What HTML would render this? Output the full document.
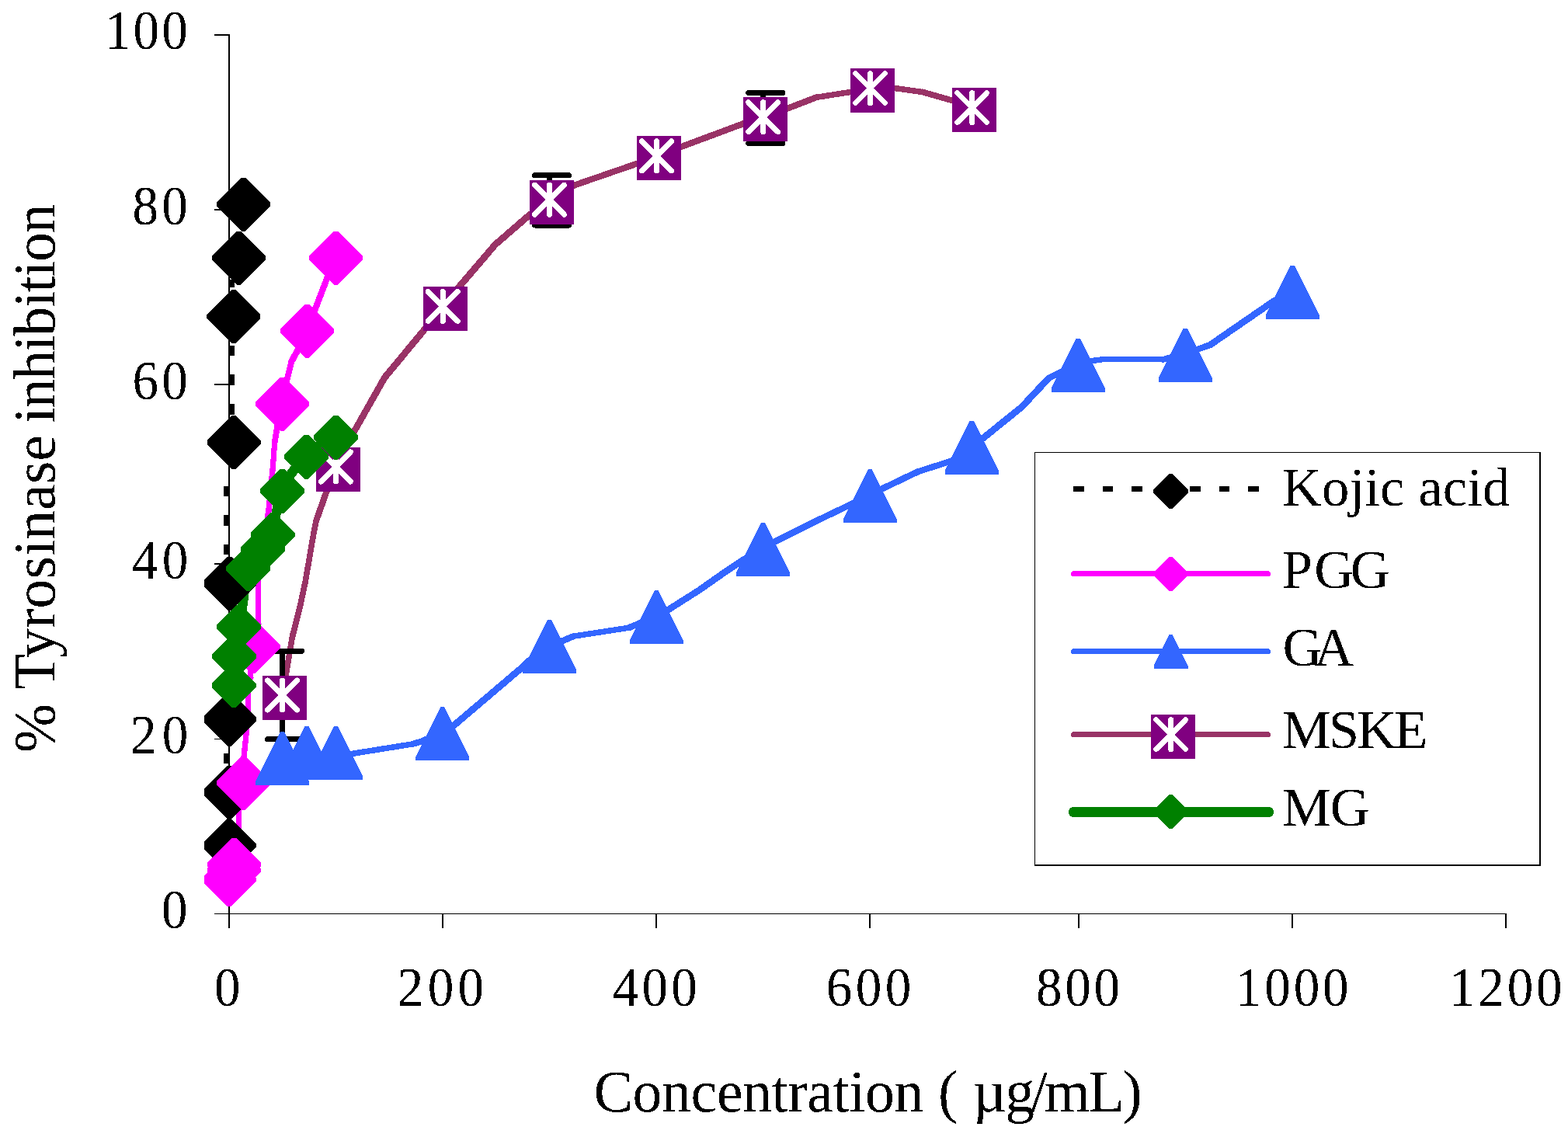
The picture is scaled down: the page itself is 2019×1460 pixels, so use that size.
<!DOCTYPE html>
<html lang="en"><head><meta charset="utf-8"><title>Tyrosinase inhibition</title>
<style>html,body{margin:0;padding:0;background:#fff}svg{display:block}text{font-family:"Liberation Serif",serif;fill:#000}</style>
</head><body>
<svg width="2019" height="1460" viewBox="0 0 2019 1460" shape-rendering="crispEdges">
<defs><filter id="bw" filterUnits="userSpaceOnUse" x="0" y="0" width="2019" height="1460" color-interpolation-filters="sRGB"><feComponentTransfer><feFuncA type="discrete" tableValues="0 1"/></feComponentTransfer></filter></defs>
<rect width="2019" height="1460" fill="#fff"/>
<g fill="#000" shape-rendering="crispEdges">
<rect x="294" y="44" width="2" height="1133"/>
<rect x="276" y="1176" width="1664" height="1"/>
<rect x="276" y="44" width="19" height="2"/>
<rect x="276" y="269" width="19" height="2"/>
<rect x="276" y="494" width="19" height="2"/>
<rect x="276" y="725" width="19" height="2"/>
<rect x="276" y="951" width="19" height="1"/>
<rect x="294" y="1176" width="2" height="19"/>
<rect x="569" y="1176" width="2" height="19"/>
<rect x="844" y="1176" width="2" height="19"/>
<rect x="1119" y="1176" width="2" height="19"/>
<rect x="1388" y="1176" width="2" height="19"/>
<rect x="1663" y="1176" width="2" height="19"/>
<rect x="1938" y="1176" width="2" height="19"/>
</g>
<g fill="none" stroke-linejoin="round" stroke-linecap="round">
<g stroke="#FF00FF"><path d="M295.0 1130.0 L298.0 1115.0" stroke-width="7.7"/><path d="M298.0 1115.0 L304.0 1085.0" stroke-width="7.7"/><path d="M304.0 1085.0 L307.4 1068.0" stroke-width="7.7"/><path d="M307.4 1068.0 L307.4 1042.0" stroke-width="7.0"/><path d="M307.4 1042.0 L311.0 1008.0" stroke-width="7.4"/><path d="M311.0 1008.0 L314.0 975.0" stroke-width="7.3"/><path d="M314.0 975.0 L319.6 920.0" stroke-width="7.3"/><path d="M319.6 920.0 L319.6 877.0" stroke-width="7.0"/><path d="M319.6 877.0 L322.4 872.0" stroke-width="8.4"/><path d="M322.4 872.0 L322.4 858.0" stroke-width="7.0"/><path d="M322.4 858.0 L325.0 832.0" stroke-width="7.3"/><path d="M325.0 832.0 L332.6 804.0" stroke-width="7.9"/><path d="M332.6 804.0 L332.6 745.0" stroke-width="7.0"/><path d="M332.6 745.0 L345.8 658.0" stroke-width="7.5"/><path d="M345.8 658.0 L351.5 600.0" stroke-width="7.3"/><path d="M351.5 600.0 L353.6 570.0" stroke-width="7.2"/><path d="M353.6 570.0 L356.6 552.0" stroke-width="7.6"/><path d="M356.6 552.0 L361.0 519.0" stroke-width="7.4"/><path d="M361.0 519.0 L370.1 486.3" stroke-width="7.9"/><path d="M370.1 486.3 L375.4 465.2" stroke-width="7.8"/><path d="M375.4 465.2 L382.2 453.0" stroke-width="8.4"/><path d="M382.2 453.0 L393.0 425.0" stroke-width="8.1"/><path d="M393.0 425.0 L405.5 398.9" stroke-width="8.3"/><path d="M405.5 398.9 L420.6 359.7" stroke-width="8.1"/><path d="M420.6 359.7 L430.0 331.0" stroke-width="8.0"/></g>
<g stroke="#3366FF"><path d="M363.6 980.0 L395.0 973.0" stroke-width="7.7"/><path d="M395.0 973.0 L432.3 973.5" stroke-width="7.0"/><path d="M432.3 973.5 L452.7 970.5" stroke-width="7.5"/><path d="M452.7 970.5 L531.4 957.9" stroke-width="7.5"/><path d="M531.4 957.9 L545.6 953.5" stroke-width="8.0"/><path d="M545.6 953.5 L568.0 943.0" stroke-width="8.3"/><path d="M568.0 943.0 L584.4 934.0" stroke-width="8.4"/><path d="M584.4 934.0 L672.8 858.9" stroke-width="8.7"/><path d="M672.8 858.9 L678.7 852.9" stroke-width="8.7"/><path d="M678.7 852.9 L705.5 831.0" stroke-width="8.7"/><path d="M705.5 831.0 L724.4 825.1" stroke-width="8.0"/><path d="M724.4 825.1 L738.3 819.2" stroke-width="8.2"/><path d="M738.3 819.2 L809.8 808.2" stroke-width="7.5"/><path d="M809.8 808.2 L821.7 803.3" stroke-width="8.2"/><path d="M821.7 803.3 L843.5 793.0" stroke-width="8.3"/><path d="M843.5 793.0 L861.5 784.4" stroke-width="8.3"/><path d="M861.5 784.4 L900.0 760.0" stroke-width="8.5"/><path d="M900.0 760.0 L933.8 736.3" stroke-width="8.6"/><path d="M933.8 736.3 L957.6 720.5" stroke-width="8.6"/><path d="M957.6 720.5 L980.5 706.0" stroke-width="8.5"/><path d="M980.5 706.0 L997.3 697.6" stroke-width="8.4"/><path d="M997.3 697.6 L1050.9 670.8" stroke-width="8.4"/><path d="M1050.9 670.8 L1098.6 648.0" stroke-width="8.3"/><path d="M1098.6 648.0 L1118.3 637.5" stroke-width="8.4"/><path d="M1118.3 637.5 L1136.3 629.1" stroke-width="8.3"/><path d="M1136.3 629.1 L1182.0 607.2" stroke-width="8.3"/><path d="M1182.0 607.2 L1225.7 593.3" stroke-width="8.0"/><path d="M1225.7 593.3 L1249.4 575.0" stroke-width="8.6"/><path d="M1249.4 575.0 L1264.9 564.9" stroke-width="8.6"/><path d="M1264.9 564.9 L1315.6 524.0" stroke-width="8.7"/><path d="M1315.6 524.0 L1350.3 486.9" stroke-width="8.7"/><path d="M1350.3 486.9 L1365.2 479.4" stroke-width="8.4"/><path d="M1365.2 479.4 L1386.3 469.0" stroke-width="8.3"/><path d="M1386.3 469.0 L1406.0 464.6" stroke-width="7.7"/><path d="M1406.0 464.6 L1418.4 462.9" stroke-width="7.5"/><path d="M1418.4 462.9 L1497.6 462.9" stroke-width="7.0"/><path d="M1497.6 462.9 L1505.0 460.9" stroke-width="7.9"/><path d="M1505.0 460.9 L1524.3 456.0" stroke-width="7.8"/><path d="M1524.3 456.0 L1542.2 449.7" stroke-width="8.1"/><path d="M1542.2 449.7 L1558.3 444.0" stroke-width="8.1"/><path d="M1558.3 444.0 L1636.3 390.3" stroke-width="8.6"/><path d="M1636.3 390.3 L1662.0 374.0" stroke-width="8.5"/></g>
<g stroke="#993366"><path d="M363.5 895.0 L368.0 870.0" stroke-width="7.6"/><path d="M368.0 870.0 L371.8 847.4" stroke-width="7.6"/><path d="M371.8 847.4 L376.4 820.0" stroke-width="7.6"/><path d="M376.4 820.0 L386.5 780.0" stroke-width="7.8"/><path d="M386.5 780.0 L393.3 748.3" stroke-width="7.7"/><path d="M393.3 748.3 L402.3 695.6" stroke-width="7.6"/><path d="M402.3 695.6 L406.8 671.5" stroke-width="7.6"/><path d="M406.8 671.5 L420.4 633.0" stroke-width="8.1"/><path d="M420.4 633.0 L432.3 601.0" stroke-width="8.1"/><path d="M432.3 601.0 L456.0 555.6" stroke-width="8.4"/><path d="M456.0 555.6 L495.2 486.3" stroke-width="8.5"/><path d="M495.2 486.3 L545.7 425.3" stroke-width="8.7"/><path d="M545.7 425.3 L570.3 394.5" stroke-width="8.7"/><path d="M570.3 394.5 L591.4 369.0" stroke-width="8.7"/><path d="M591.4 369.0 L637.8 314.8" stroke-width="8.7"/><path d="M637.8 314.8 L682.1 276.5" stroke-width="8.7"/><path d="M682.1 276.5 L707.5 257.3" stroke-width="8.6"/><path d="M707.5 257.3 L738.9 238.7" stroke-width="8.5"/><path d="M738.9 238.7 L819.2 211.0" stroke-width="8.0"/><path d="M819.2 211.0 L845.5 200.8" stroke-width="8.1"/><path d="M845.5 200.8 L876.8 189.1" stroke-width="8.1"/><path d="M876.8 189.1 L957.2 159.2" stroke-width="8.1"/><path d="M957.2 159.2 L982.7 150.8" stroke-width="8.0"/><path d="M982.7 150.8 L1014.8 139.3" stroke-width="8.1"/><path d="M1014.8 139.3 L1050.9 125.4" stroke-width="8.1"/><path d="M1050.9 125.4 L1095.0 118.5" stroke-width="7.5"/><path d="M1095.0 118.5 L1120.5 113.5" stroke-width="7.6"/><path d="M1120.5 113.5 L1151.8 113.5" stroke-width="7.0"/><path d="M1151.8 113.5 L1188.0 118.5" stroke-width="7.5"/><path d="M1188.0 118.5 L1226.1 129.4" stroke-width="7.9"/><path d="M1226.1 129.4 L1251.6 138.6" stroke-width="8.1"/></g>
<path d="M298.5 880.0 L298.5 843.0 L304.5 805.0 L311.5 785.0 L314.0 768.0 L316.5 730.0 L335.5 705.0 L348.0 686.0 L356.0 660.0 L361.0 630.0 L375.0 610.0 L391.5 586.0 L429.5 561.0" stroke="#008000" stroke-width="12.5"/>
</g>
<g fill="#000" shape-rendering="crispEdges">
<rect x="294" y="360" width="8" height="10"/>
<rect x="294" y="445" width="8" height="13"/>
<rect x="294" y="482" width="8" height="14"/>
<rect x="294" y="520" width="8" height="14"/>
<rect x="288" y="626" width="8" height="13"/>
<rect x="288" y="663" width="8" height="14"/>
<rect x="288" y="701" width="8" height="13"/>
<rect x="288" y="970" width="8" height="13"/>
</g>
<g stroke="#000" stroke-width="7" stroke-linecap="round" fill="none">
<path d="M363.5 838.4 V951.5 M344.5 838.4 H388.5 M344.5 951.5 H388.5"/>
<path d="M707.5 225.5 V290.0 M688.5 225.5 H732.5 M688.5 290.0 H732.5"/>
<path d="M982.7 119.5 V184.5 M963.7 119.5 H1007.7 M963.7 184.5 H1007.7"/>
</g>
<clipPath id="pc"><rect x="263" y="0" width="1756" height="1460"/></clipPath>
<g clip-path="url(#pc)">
<polygon points="292.5,1054.3 297.5,1054.3 329.5,1086.3 329.5,1091.3 297.5,1123.3 292.5,1123.3 260.5,1091.3 260.5,1086.3" fill="#000"/>
<polygon points="292.5,985.5 297.5,985.5 329.5,1017.5 329.5,1022.5 297.5,1054.5 292.5,1054.5 260.5,1022.5 260.5,1017.5" fill="#000"/>
<polygon points="292.9,891.8 297.9,891.8 329.9,923.8 329.9,928.8 297.9,960.8 292.9,960.8 260.9,928.8 260.9,923.8" fill="#000"/>
<polygon points="292.5,716.5 297.5,716.5 329.5,748.5 329.5,753.5 297.5,785.5 292.5,785.5 260.5,753.5 260.5,748.5" fill="#000"/>
<polygon points="298.5,535.4 303.5,535.4 335.5,567.4 335.5,572.4 303.5,604.4 298.5,604.4 266.5,572.4 266.5,567.4" fill="#000"/>
<polygon points="298.3,373.1 303.3,373.1 335.3,405.1 335.3,410.1 303.3,442.1 298.3,442.1 266.3,410.1 266.3,405.1" fill="#000"/>
<polygon points="305.1,297.8 310.1,297.8 342.1,329.8 342.1,334.8 310.1,366.8 305.1,366.8 273.1,334.8 273.1,329.8" fill="#000"/>
<polygon points="311.1,228.8 316.1,228.8 348.1,260.8 348.1,265.8 316.1,297.8 311.1,297.8 279.1,265.8 279.1,260.8" fill="#000"/>
<polygon points="292.5,1098.1 297.5,1098.1 329.5,1130.1 329.5,1135.1 297.5,1167.1 292.5,1167.1 260.5,1135.1 260.5,1130.1" fill="#FF00FF"/>
<polygon points="298.5,1086.0 303.5,1086.0 335.5,1118.0 335.5,1123.0 303.5,1155.0 298.5,1155.0 266.5,1123.0 266.5,1118.0" fill="#FF00FF"/>
<polygon points="298.5,1078.5 303.5,1078.5 335.5,1110.5 335.5,1115.5 303.5,1147.5 298.5,1147.5 266.5,1115.5 266.5,1110.5" fill="#FF00FF"/>
<polygon points="311.0,973.7 316.0,973.7 348.0,1005.7 348.0,1010.7 316.0,1042.7 311.0,1042.7 279.0,1010.7 279.0,1005.7" fill="#FF00FF"/>
<polygon points="323.8,798.1 328.8,798.1 360.8,830.1 360.8,835.1 328.8,867.1 323.8,867.1 291.8,835.1 291.8,830.1" fill="#FF00FF"/>
<polygon points="361.0,485.7 366.0,485.7 398.0,517.7 398.0,522.7 366.0,554.7 361.0,554.7 329.0,522.7 329.0,517.7" fill="#FF00FF"/>
<polygon points="392.5,391.5 397.5,391.5 429.5,423.5 429.5,428.5 397.5,460.5 392.5,460.5 360.5,428.5 360.5,423.5" fill="#FF00FF"/>
<polygon points="429.8,297.8 434.8,297.8 466.8,329.8 466.8,334.8 434.8,366.8 429.8,366.8 397.8,334.8 397.8,329.8" fill="#FF00FF"/>
<polygon points="361.1,942.1 366.1,942.1 398.1,1006.1 398.1,1011.1 329.1,1011.1 329.1,1006.1" fill="#3366FF"/>
<polygon points="392.5,934.9 397.5,934.9 429.5,998.9 429.5,1003.9 360.5,1003.9 360.5,998.9" fill="#3366FF"/>
<polygon points="429.8,935.0 434.8,935.0 466.8,999.0 466.8,1004.0 397.8,1004.0 397.8,999.0" fill="#3366FF"/>
<polygon points="567.4,910.4 572.4,910.4 604.4,974.4 604.4,979.4 535.4,979.4 535.4,974.4" fill="#3366FF"/>
<polygon points="705.0,797.9 710.0,797.9 742.0,861.9 742.0,866.9 673.0,866.9 673.0,861.9" fill="#3366FF"/>
<polygon points="842.8,760.2 847.8,760.2 879.8,824.2 879.8,829.2 810.8,829.2 810.8,824.2" fill="#3366FF"/>
<polygon points="980.0,673.0 985.0,673.0 1017.0,737.0 1017.0,742.0 948.0,742.0 948.0,737.0" fill="#3366FF"/>
<polygon points="1117.8,604.3 1122.8,604.3 1154.8,668.3 1154.8,673.3 1085.8,673.3 1085.8,668.3" fill="#3366FF"/>
<polygon points="1248.9,541.5 1253.9,541.5 1285.9,605.5 1285.9,610.5 1216.9,610.5 1216.9,605.5" fill="#3366FF"/>
<polygon points="1385.8,435.5 1390.8,435.5 1422.8,499.5 1422.8,504.5 1353.8,504.5 1353.8,499.5" fill="#3366FF"/>
<polygon points="1523.8,422.7 1528.8,422.7 1560.8,486.7 1560.8,491.7 1491.8,491.7 1491.8,486.7" fill="#3366FF"/>
<polygon points="1661.6,341.5 1666.6,341.5 1698.6,405.5 1698.6,410.5 1629.6,410.5 1629.6,405.5" fill="#3366FF"/>
<rect x="338.0" y="869.5" width="57.0" height="57.0" fill="#800080"/><path d="M363.5 876.0 V914.0 M344.5 876.0 L382.5 914.0 M382.5 876.0 L344.5 914.0" stroke="#fff" stroke-width="7.0" stroke-linecap="round" fill="none"/>
<rect x="406.8" y="575.5" width="57.0" height="57.0" fill="#800080"/><path d="M432.3 582.0 V620.0 M413.3 582.0 L451.3 620.0 M451.3 582.0 L413.3 620.0" stroke="#fff" stroke-width="7.0" stroke-linecap="round" fill="none"/>
<rect x="544.8" y="369.0" width="57.0" height="57.0" fill="#800080"/><path d="M570.3 375.5 V413.5 M551.3 375.5 L589.3 413.5 M589.3 375.5 L551.3 413.5" stroke="#fff" stroke-width="7.0" stroke-linecap="round" fill="none"/>
<rect x="682.0" y="231.8" width="57.0" height="57.0" fill="#800080"/><path d="M707.5 238.3 V276.3 M688.5 238.3 L726.5 276.3 M726.5 238.3 L688.5 276.3" stroke="#fff" stroke-width="7.0" stroke-linecap="round" fill="none"/>
<rect x="820.0" y="175.3" width="57.0" height="57.0" fill="#800080"/><path d="M845.5 181.8 V219.8 M826.5 181.8 L864.5 219.8 M864.5 181.8 L826.5 219.8" stroke="#fff" stroke-width="7.0" stroke-linecap="round" fill="none"/>
<rect x="957.2" y="125.3" width="57.0" height="57.0" fill="#800080"/><path d="M982.7 131.8 V169.8 M963.7 131.8 L1001.7 169.8 M1001.7 131.8 L963.7 169.8" stroke="#fff" stroke-width="7.0" stroke-linecap="round" fill="none"/>
<rect x="1095.0" y="88.0" width="57.0" height="57.0" fill="#800080"/><path d="M1120.5 94.5 V132.5 M1101.5 94.5 L1139.5 132.5 M1139.5 94.5 L1101.5 132.5" stroke="#fff" stroke-width="7.0" stroke-linecap="round" fill="none"/>
<rect x="1226.1" y="113.1" width="57.0" height="57.0" fill="#800080"/><path d="M1251.6 119.6 V157.6 M1232.6 119.6 L1270.6 157.6 M1270.6 119.6 L1232.6 157.6" stroke="#fff" stroke-width="7.0" stroke-linecap="round" fill="none"/>
<polygon points="298.9,854.1 303.9,854.1 329.9,880.1 329.9,885.1 303.9,911.1 298.9,911.1 272.9,885.1 272.9,880.1" fill="#008000"/>
<polygon points="298.9,816.7 303.9,816.7 329.9,842.7 329.9,847.7 303.9,873.7 298.9,873.7 272.9,847.7 272.9,842.7" fill="#008000"/>
<polygon points="304.9,778.7 309.9,778.7 335.9,804.7 335.9,809.7 309.9,835.7 304.9,835.7 278.9,809.7 278.9,804.7" fill="#008000"/>
<polygon points="316.9,703.8 321.9,703.8 347.9,729.8 347.9,734.8 321.9,760.8 316.9,760.8 290.9,734.8 290.9,729.8" fill="#008000"/>
<polygon points="335.8,678.5 340.8,678.5 366.8,704.5 366.8,709.5 340.8,735.5 335.8,735.5 309.8,709.5 309.8,704.5" fill="#008000"/>
<polygon points="348.6,660.0 353.6,660.0 379.6,686.0 379.6,691.0 353.6,717.0 348.6,717.0 322.6,691.0 322.6,686.0" fill="#008000"/>
<polygon points="361.1,603.9 366.1,603.9 392.1,629.9 392.1,634.9 366.1,660.9 361.1,660.9 335.1,634.9 335.1,629.9" fill="#008000"/>
<polygon points="392.0,559.8 397.0,559.8 423.0,585.8 423.0,590.8 397.0,616.8 392.0,616.8 366.0,590.8 366.0,585.8" fill="#008000"/>
<polygon points="429.9,534.6 434.9,534.6 460.9,560.6 460.9,565.6 434.9,591.6 429.9,591.6 403.9,565.6 403.9,560.6" fill="#008000"/>
</g>
<g shape-rendering="crispEdges">
<rect x="1332" y="582" width="652" height="533" fill="#000"/>
<rect x="1333" y="583" width="649" height="530" fill="#fff"/>
<rect x="1382" y="626" width="14" height="7" fill="#000"/>
<rect x="1420" y="626" width="13" height="7" fill="#000"/>
<rect x="1457" y="626" width="14" height="7" fill="#000"/>
<rect x="1532" y="626" width="14" height="7" fill="#000"/>
<rect x="1570" y="626" width="13" height="7" fill="#000"/>
<rect x="1607" y="626" width="14" height="7" fill="#000"/>
</g>
<g fill="none" stroke-linecap="round">
<path d="M1382.5 738.5 H1632.5" stroke="#FF00FF" stroke-width="7"/>
<path d="M1382.5 838.7 H1632.5" stroke="#3366FF" stroke-width="7"/>
<path d="M1382.5 945.6 H1632.5" stroke="#993366" stroke-width="7"/>
<path d="M1382.7 1045.5 H1633.3" stroke="#008000" stroke-width="13.5"/>
</g>
<polygon points="1505.6,609.8 1509.6,609.8 1530.2,630.4 1530.2,634.4 1509.6,655.0 1505.6,655.0 1484.9,634.4 1484.9,630.4" fill="#000"/>
<polygon points="1505.6,717.1 1509.6,717.1 1529.5,737.0 1529.5,741.0 1509.6,760.9 1505.6,760.9 1485.7,741.0 1485.7,737.0" fill="#FF00FF"/>
<polygon points="1505.6,817.1 1509.6,817.1 1529.6,857.1 1529.6,861.1 1485.6,861.1 1485.6,857.1" fill="#3366FF"/>
<rect x="1482.1" y="920.1" width="57.0" height="57.0" fill="#800080"/><path d="M1507.6 926.6 V964.6 M1488.6 926.6 L1526.6 964.6 M1526.6 926.6 L1488.6 964.6" stroke="#fff" stroke-width="7.0" stroke-linecap="round" fill="none"/>
<polygon points="1505.6,1023.0 1509.6,1023.0 1529.6,1043.0 1529.6,1047.0 1509.6,1067.0 1505.6,1067.0 1485.6,1047.0 1485.6,1043.0" fill="#008000"/>
<g filter="url(#bw)">
<text transform="translate(134.9 63.4) scale(0.927 1)" font-size="72.3" letter-spacing="3.398">100</text>
<text transform="translate(170.5 289.4) scale(0.927 1)" font-size="72.3" letter-spacing="4.531">80</text>
<text transform="translate(170.5 514.1) scale(0.927 1)" font-size="72.3" letter-spacing="4.531">60</text>
<text transform="translate(170.1 744.9) scale(0.927 1)" font-size="72.3" letter-spacing="5.502">40</text>
<text transform="translate(168.1 970.0) scale(0.927 1)" font-size="72.3" letter-spacing="7.659">20</text>
<text transform="translate(208.1 1195.4) scale(0.927 1)" font-size="72.3" letter-spacing="0">0</text>
<text transform="translate(276.1 1294.8) scale(0.927 1)" font-size="72.3" letter-spacing="0">0</text>
<text transform="translate(511.8 1294.5) scale(0.927 1)" font-size="72.3" letter-spacing="5.771">200</text>
<text transform="translate(789.0 1294.5) scale(0.927 1)" font-size="72.3" letter-spacing="4.423">400</text>
<text transform="translate(1063.7 1294.5) scale(0.927 1)" font-size="72.3" letter-spacing="4.908">600</text>
<text transform="translate(1334.0 1294.5) scale(0.927 1)" font-size="72.3" letter-spacing="3.991">800</text>
<text transform="translate(1590.8 1294.5) scale(0.927 1)" font-size="72.3" letter-spacing="4.243">1000</text>
<text transform="translate(1865.9 1294.5) scale(0.927 1)" font-size="72.3" letter-spacing="4.171">1200</text>
<text x="1650.8" y="650.8" font-size="70.7" letter-spacing="0.122">Kojic acid</text>
<text x="1650.8 1692.3 1738.8" y="757.4" font-size="70.7">PGG</text>
<text x="1651.6" y="857.2" font-size="70.7" letter-spacing="-10.7">GA</text>
<text x="1650.8" y="963.2" font-size="70.7" letter-spacing="-2.9">MSKE</text>
<text x="1650.8" y="1063.2" font-size="70.7" letter-spacing="-0.8">MG</text>
<text y="1430.6" font-size="75.7" xml:space="preserve"><tspan x="764.4" letter-spacing="-0.317">Concentration </tspan><tspan x="1207.9 1237.9 1252.6 1294.2 1327.6 1344.8 1401.7 1445.4">( µg/mL)</tspan></text>
<text transform="translate(70.4 968.8) rotate(-90)" font-size="75.7" xml:space="preserve"><tspan x="-0.2" letter-spacing="0">% </tspan><tspan x="81.0" letter-spacing="0.122">Tyrosinase </tspan><tspan x="423.8" letter-spacing="-1.3">inhibition</tspan></text>
</g>
</svg>
</body></html>
